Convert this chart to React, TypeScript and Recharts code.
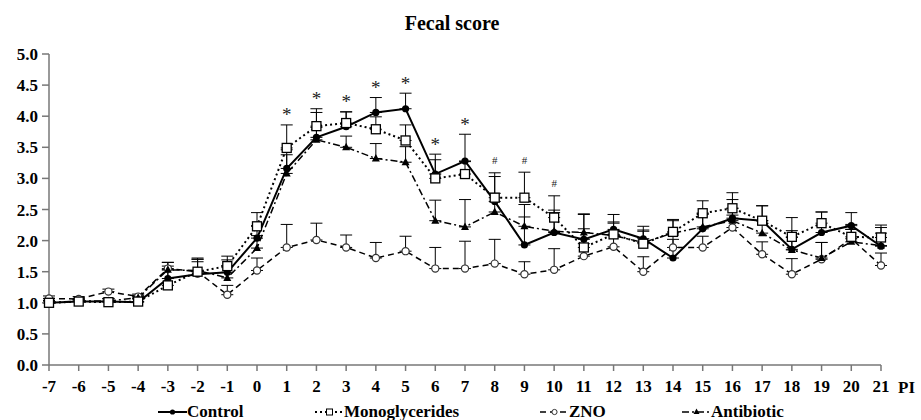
import React from "react";
import { LineChart, Line, XAxis, YAxis, ErrorBar } from "recharts";

const days = [-7, -6, -5, -4, -3, -2, -1, 0, 1, 2, 3, 4, 5, 6, 7, 8, 9, 10, 11, 12, 13, 14, 15, 16, 17, 18, 19, 20, 21];
const yTicks = [0, 0.5, 1, 1.5, 2, 2.5, 3, 3.5, 4, 4.5, 5];

const control = [1.0, 1.02, 1.02, 1.01, 1.39, 1.46, 1.49, 2.04, 3.16, 3.66, 3.83, 4.06, 4.12, 3.07, 3.28, 2.63, 1.93, 2.13, 2.02, 2.18, 2.03, 1.72, 2.19, 2.36, 2.32, 1.86, 2.13, 2.24, 1.91];
const controlErr = [0.03, 0.03, 0.05, 0.05, 0.2, 0.2, 0.2, 0.2, 0.3, 0.4, 0.24, 0.24, 0.25, 0.32, 0.43, 0.4, 0.45, 0.36, 0.4, 0.24, 0.2, 0.3, 0.25, 0.3, 0.24, 0.3, 0.33, 0.21, 0.3];

const mono = [1.0, 1.02, 1.01, 1.02, 1.28, 1.5, 1.59, 2.23, 3.49, 3.84, 3.89, 3.79, 3.61, 3.0, 3.07, 2.69, 2.69, 2.37, 1.89, 2.1, 1.95, 2.14, 2.44, 2.52, 2.32, 2.06, 2.28, 2.06, 2.05];
const monoErr = [0.03, 0.03, 0.05, 0.05, 0.25, 0.2, 0.16, 0.22, 0.37, 0.28, 0.18, 0.2, 0.25, 0.3, 0.2, 0.4, 0.41, 0.35, 0.3, 0.2, 0.2, 0.2, 0.2, 0.25, 0.24, 0.31, 0.18, 0.2, 0.2];

const zno = [1.07, 1.06, 1.18, 1.1, 1.55, 1.5, 1.13, 1.52, 1.89, 2.01, 1.89, 1.72, 1.83, 1.55, 1.55, 1.63, 1.46, 1.53, 1.75, 1.9, 1.5, 1.89, 1.89, 2.21, 1.78, 1.46, 1.7, 2.03, 1.6];
const znoErr = [0.04, 0.04, 0.04, 0.04, 0.1, 0.2, 0.15, 0.2, 0.37, 0.27, 0.2, 0.25, 0.24, 0.34, 0.44, 0.39, 0.2, 0.34, 0.2, 0.2, 0.24, 0.2, 0.18, 0.2, 0.2, 0.25, 0.27, 0.15, 0.2];

const antibiotic = [1.0, 1.03, 1.03, 1.08, 1.53, 1.52, 1.4, 1.88, 3.08, 3.62, 3.5, 3.32, 3.26, 2.32, 2.22, 2.46, 2.23, 2.15, 2.13, 2.08, 1.97, 2.12, 2.22, 2.32, 2.12, 1.85, 1.72, 1.98, 1.92];
const antibioticErr = [0.04, 0.04, 0.04, 0.04, 0.12, 0.2, 0.2, 0.2, 0.3, 0.2, 0.18, 0.24, 0.25, 0.33, 0.44, 0.3, 0.35, 0.3, 0.3, 0.2, 0.2, 0.2, 0.2, 0.2, 0.2, 0.2, 0.25, 0.2, 0.2];

// significance marks above each day (* and #)
const sigMarks = ["", "", "", "", "", "", "", "", "*", "*", "*", "*", "*", "*", "*", "#", "#", "#", "", "", "", "", "", "", "", "", "", "", ""];

const FONT = '"Liberation Serif", "Times New Roman", serif';
const AXIS = "#777";

const data = days.map((day, i) => {
  const top = Math.max(
    control[i] + controlErr[i],
    mono[i] + monoErr[i],
    zno[i] + znoErr[i],
    antibiotic[i] + antibioticErr[i]
  );
  return {
    day,
    control: control[i],
    controlErr: [0, controlErr[i]],
    mono: mono[i],
    monoErr: [0, monoErr[i]],
    zno: zno[i],
    znoErr: [0, znoErr[i]],
    antibiotic: antibiotic[i],
    antibioticErr: [0, antibioticErr[i]],
    sigY: sigMarks[i] ? top + 0.2 : null,
  };
});

const CircleDot = (props: any) => {
  const { cx, cy, index } = props;
  if (cx == null || cy == null) return <g key={`c-${index}`} />;
  return <circle key={`c-${index}`} cx={cx} cy={cy} r={3.6} fill="#000" />;
};

const SquareDot = (props: any) => {
  const { cx, cy, index } = props;
  if (cx == null || cy == null) return <g key={`s-${index}`} />;
  return <rect key={`s-${index}`} x={cx - 4.5} y={cy - 4.5} width={9} height={9} fill="#fff" stroke="#000" strokeWidth={1.3} />;
};

const OpenCircleDot = (props: any) => {
  const { cx, cy, index } = props;
  if (cx == null || cy == null) return <g key={`o-${index}`} />;
  return <circle key={`o-${index}`} cx={cx} cy={cy} r={3.6} fill="#fff" stroke="#333" strokeWidth={1.2} />;
};

const TriangleDot = (props: any) => {
  const { cx, cy, index } = props;
  if (cx == null || cy == null) return <g key={`t-${index}`} />;
  return <path key={`t-${index}`} d={`M${cx},${cy - 4.5}L${cx + 4},${cy + 3}L${cx - 4},${cy + 3}Z`} fill="#000" />;
};

const renderSig = (props: any) => {
  const { x, y, index } = props;
  const mark = sigMarks[index];
  if (!mark || y == null || isNaN(y)) return null;
  const star = mark === "*";
  return (
    <text key={`sig-${index}`} x={x} y={y + (star ? 9 : 4)} textAnchor="middle" fontFamily={FONT} fontSize={star ? 19 : 11} fill="#222" stroke="none">
      {mark}
    </text>
  );
};

const series = [
  { name: "Control", dash: "", width: 2, marker: "circle" },
  { name: "Monoglycerides", dash: "2 3", width: 2, marker: "square" },
  { name: "ZNO", dash: "6 4", width: 1.5, marker: "open" },
  { name: "Antibiotic", dash: "7 3 2 3", width: 1.5, marker: "triangle" },
];

const legendLeft = [158, 315, 540, 682];

const LegendSwatch = ({ dash, width, marker }: any) => (
  <svg width={29} height={12} style={{ display: "block" }}>
    <line x1={0} y1={6} x2={29} y2={6} stroke="#000" strokeWidth={width} strokeDasharray={dash || undefined} />
    {marker === "circle" && <circle cx={14.5} cy={6} r={2.6} fill="#000" />}
    {marker === "square" && <rect x={11.5} y={3} width={6} height={6} fill="#fff" stroke="#000" strokeWidth={1} />}
    {marker === "open" && <circle cx={14.5} cy={6} r={2.6} fill="#fff" stroke="#333" strokeWidth={1} />}
    {marker === "triangle" && <path d="M14.5,2.5L17.5,8L11.5,8Z" fill="#000" />}
  </svg>
);

export default function App() {
  return (
    <div style={{ position: "absolute", left: 0, top: 0, width: 921, height: 420, background: "#fff", fontFamily: FONT, overflow: "hidden" }}>
      <div style={{ position: "absolute", left: 0, top: 12, width: 904, textAlign: "center", fontSize: 20, fontWeight: "bold", lineHeight: "22px" }}>
        Fecal score
      </div>
      <LineChart width={921} height={420} data={data} margin={{ top: 54, right: 40, bottom: 11, left: 0 }}>
        <XAxis
          type="number"
          dataKey="day"
          domain={[-7, 21]}
          ticks={days}
          interval={0}
          height={44}
          axisLine={{ stroke: AXIS, strokeWidth: 1.5 }}
          tickLine={{ stroke: AXIS, strokeWidth: 1.5 }}
          tickSize={6}
          tickMargin={9}
          tick={{ fill: "#000", fontSize: 17, fontWeight: "bold", fontFamily: FONT }}
          label={{ value: "PI", position: "right", offset: 17, fill: "#000", fontSize: 17, fontWeight: "bold", fontFamily: FONT }}
        />
        <YAxis
          width={49}
          domain={[0, 5]}
          ticks={yTicks}
          interval={0}
          tickFormatter={(v: number) => v.toFixed(1)}
          axisLine={{ stroke: AXIS, strokeWidth: 1.5 }}
          tickLine={{ stroke: AXIS, strokeWidth: 1.5 }}
          tickSize={7}
          tickMargin={4}
          tick={{ fill: "#000", fontSize: 17, fontWeight: "bold", fontFamily: FONT }}
        />
        <Line dataKey="zno" stroke="#000" strokeWidth={1.5} strokeDasharray="6 4" dot={<OpenCircleDot />} activeDot={false} isAnimationActive={false}>
          <ErrorBar dataKey="znoErr" direction="y" width={6} stroke="#000" strokeWidth={1} />
        </Line>
        <Line dataKey="antibiotic" stroke="#000" strokeWidth={1.5} strokeDasharray="7 3 2 3" dot={<TriangleDot />} activeDot={false} isAnimationActive={false}>
          <ErrorBar dataKey="antibioticErr" direction="y" width={6} stroke="#000" strokeWidth={1} />
        </Line>
        <Line dataKey="control" stroke="#000" strokeWidth={2} dot={<CircleDot />} activeDot={false} isAnimationActive={false}>
          <ErrorBar dataKey="controlErr" direction="y" width={6} stroke="#000" strokeWidth={1} />
        </Line>
        <Line dataKey="mono" stroke="#000" strokeWidth={2} strokeDasharray="2 3" dot={<SquareDot />} activeDot={false} isAnimationActive={false}>
          <ErrorBar dataKey="monoErr" direction="y" width={6} stroke="#000" strokeWidth={1} />
        </Line>
        <Line dataKey="sigY" stroke="none" dot={false} activeDot={false} isAnimationActive={false} label={renderSig} />
      </LineChart>
      {series.map((s, i) => (
        <div key={s.name} style={{ position: "absolute", left: legendLeft[i], top: 404, display: "flex", alignItems: "center", fontSize: 17, fontWeight: "bold", lineHeight: "16px", height: 16 }}>
          <LegendSwatch dash={s.dash} width={s.width} marker={s.marker} />
          <span>{s.name}</span>
        </div>
      ))}
    </div>
  );
}
